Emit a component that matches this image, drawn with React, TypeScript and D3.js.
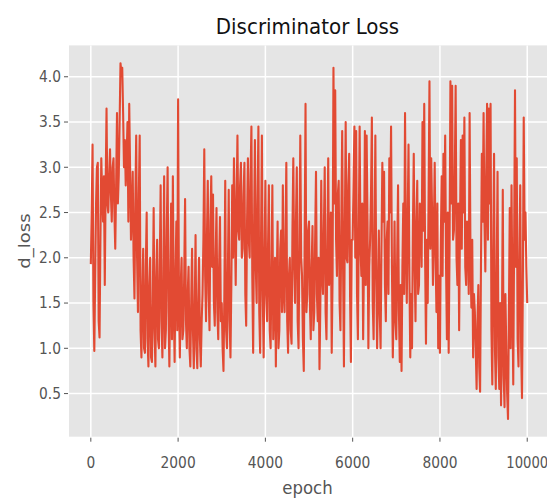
import React from "react";
import * as d3 from "d3";

const STEP = 20;
const dLoss: number[] = [
  // 0 - 980
  1.93, 2.5, 3.25, 1.5, 0.97, 1.8, 2.6, 3.0, 3.05, 1.3,
  1.12, 2.2, 3.1, 2.7, 2.4, 2.9, 1.7, 2.8, 3.65, 2.6,
  2.5, 2.9, 3.2, 2.7, 2.4, 3.0, 3.1, 2.5, 2.1, 2.8,
  3.6, 2.6, 2.9, 3.5, 4.15, 4.05, 4.1, 3.6, 3.0, 3.3,
  2.8, 3.1, 3.5, 2.4, 3.7, 3.0, 2.2, 2.5, 2.95, 2.0,
  // 1000 - 1980
  1.55, 2.6, 3.35, 2.0, 1.4, 2.7, 3.35, 1.2, 0.9, 1.6,
  2.1, 1.0, 0.95, 1.9, 2.5, 1.1, 0.8, 1.7, 2.0, 0.9,
  0.85, 1.5, 2.55, 1.2, 0.8, 1.8, 2.2, 1.1, 1.0, 1.9,
  2.8, 1.3, 0.9, 1.6, 2.9, 1.0, 1.2, 2.3, 3.0, 1.4,
  0.8, 1.7, 2.6, 1.1, 2.9, 1.5, 0.85, 1.8, 2.4, 1.2,
  // 2000 - 2980
  3.75, 1.5, 0.9, 1.7, 2.0, 1.1, 1.2, 1.8, 2.65, 1.3,
  1.0, 1.6, 1.9, 1.0, 0.8, 1.5, 2.1, 1.2, 0.78, 1.4,
  2.25, 1.0, 0.78, 1.5, 2.0, 1.1, 0.8, 1.3, 1.6, 2.2,
  3.2, 1.8, 1.3, 2.2, 2.85, 1.6, 1.2, 2.4, 2.9, 1.9,
  2.7, 1.5, 1.25, 2.0, 2.55, 1.4, 1.1, 1.9, 2.45, 1.3,
  // 3000 - 3980
  1.5, 1.0, 0.75, 1.6, 2.85, 1.2, 1.0, 1.8, 2.75, 1.3,
  0.9, 1.7, 2.8, 2.0, 3.1, 2.4, 1.7, 2.6, 3.35, 2.3,
  2.2, 2.8, 3.05, 2.0, 2.1, 2.7, 3.05, 1.6, 1.25, 2.4,
  3.1, 2.2, 2.0, 2.9, 3.45, 1.8, 0.95, 2.3, 3.3, 1.9,
  1.5, 2.6, 3.45, 1.4, 0.95, 2.2, 3.35, 1.6, 0.9, 2.0,
  // 4000 - 4980
  2.85, 1.6, 1.3, 2.1, 2.8, 1.2, 1.0, 1.9, 2.8, 1.1,
  1.5, 2.0, 0.8, 1.7, 2.4, 1.0, 1.2, 2.1, 2.3, 1.4,
  2.8, 1.6, 1.4, 2.2, 3.05, 1.3, 0.95, 1.8, 2.0, 1.2,
  1.05, 2.3, 3.1, 1.9, 1.5, 2.4, 3.0, 1.3, 1.0, 2.1,
  3.35, 2.0, 1.8, 1.1, 0.75, 2.2, 3.7, 1.4, 1.6, 2.3,
  // 5000 - 5980
  2.4, 1.5, 1.1, 1.9, 2.35, 1.2, 1.4, 2.2, 2.95, 1.6,
  1.3, 2.0, 0.77, 1.5, 2.85, 1.8, 1.6, 2.3, 3.0, 1.4,
  1.1, 2.1, 3.1, 1.7, 1.9, 2.5, 0.95, 1.8, 4.1, 2.6,
  3.85, 2.2, 1.8, 2.7, 2.85, 1.5, 1.2, 2.4, 3.4, 1.9,
  0.8, 2.3, 3.5, 2.0, 1.95, 2.8, 3.15, 1.6, 0.85, 2.2,
  // 6000 - 6980
  2.2, 2.8, 3.45, 2.0, 3.4, 1.6, 1.1, 2.3, 3.45, 2.1,
  1.8, 2.6, 1.1, 2.0, 3.4, 1.7, 3.35, 2.4, 1.0, 1.9,
  2.2, 2.7, 3.55, 1.5, 1.1, 2.2, 3.35, 1.8, 1.0, 1.6,
  2.3, 1.4, 1.0, 2.1, 3.05, 2.4, 2.95, 1.7, 1.3, 2.2,
  2.4, 1.6, 3.1, 2.5, 3.45, 1.9, 0.9, 1.5, 2.4, 1.3,
  // 7000 - 7980
  1.1, 2.0, 2.8, 1.4, 0.85, 1.7, 0.75, 1.9, 2.6, 1.6,
  3.6, 2.2, 1.5, 2.4, 3.25, 1.8, 0.9, 1.6, 1.0, 2.3,
  3.15, 1.9, 1.3, 2.4, 2.85, 1.6, 1.7, 2.6, 2.5, 1.9,
  3.5, 2.3, 3.7, 2.0, 1.05, 2.2, 1.5, 2.7, 3.95, 2.1,
  3.1, 2.5, 1.7, 2.3, 3.05, 2.0, 1.4, 2.6, 1.0, 1.8,
  // 8000 - 8980
  0.95, 2.2, 2.9, 1.8, 3.15, 2.4, 3.35, 1.9, 1.1, 2.5,
  0.95, 2.1, 3.95, 2.6, 3.9, 2.2, 2.3, 2.9, 3.9, 2.0,
  1.7, 2.6, 1.2, 2.4, 3.3, 2.1, 3.35, 2.5, 3.55, 1.9,
  1.7, 2.4, 2.3, 1.6, 3.6, 2.0, 1.45, 2.2, 0.9, 1.6,
  1.4, 1.0, 0.55, 1.3, 1.7, 0.8, 0.52, 1.9, 3.15, 2.4,
  // 9000 - 10000
  3.6, 2.4, 1.85, 2.9, 3.7, 2.2, 3.65, 2.6, 3.7, 1.2,
  0.6, 2.0, 3.15, 1.0, 0.55, 1.8, 2.95, 0.9, 0.55, 1.5,
  0.37, 1.2, 2.75, 0.7, 0.35, 1.6, 1.0, 0.5, 0.22, 1.4,
  2.55, 1.0, 2.8, 1.6, 0.6, 2.2, 3.85, 1.9, 3.1, 1.1,
  0.8, 2.0, 2.8, 1.0, 0.45, 1.7, 3.55, 2.2, 2.5, 1.9, 1.5,
];

const xTicks = [0, 2000, 4000, 6000, 8000, 10000];
const yTicks = [0.5, 1.0, 1.5, 2.0, 2.5, 3.0, 3.5, 4.0];

const TITLE = "Discriminator Loss";
const X_LABEL = "epoch";
const Y_LABEL = "d_loss";

export default function App() {
  const W = 547;
  const H = 500;
  const left = 69;
  const right = 549;
  const top = 45.4;
  const bottom = 436.7;

  const data = dLoss.map((v, i) => ({ e: i * STEP, v }));
  const minV = d3.min(dLoss)!;
  const maxV = d3.max(dLoss)!;
  const pad = (maxV - minV) * 0.05;

  const x = d3.scaleLinear().domain([-500, 10499]).range([left, right]);
  const y = d3.scaleLinear().domain([minV - pad, maxV + pad]).range([bottom, top]);

  const line = d3
    .line<{ e: number; v: number }>()
    .x((d) => x(d.e))
    .y((d) => y(d.v));

  const font = "'DejaVu Sans', sans-serif";
  const sx = 0.92;

  return (
    <svg
      width={W}
      height={H}
      style={{ position: "absolute", left: 0, top: 0, background: "#fff" }}
      fontFamily={font}
    >
      <defs>
        <clipPath id="plotclip">
          <rect x={left} y={top} width={right - left} height={bottom - top} />
        </clipPath>
      </defs>
      <rect x={left} y={top} width={right - left} height={bottom - top} fill="#E5E5E5" />
      {xTicks.map((t) => (
        <line key={"gx" + t} x1={x(t)} x2={x(t)} y1={top} y2={bottom} stroke="#fff" strokeWidth={1.5} />
      ))}
      {yTicks.map((t) => (
        <line key={"gy" + t} x1={left} x2={right} y1={y(t)} y2={y(t)} stroke="#fff" strokeWidth={1.5} />
      ))}
      <path
        d={line(data) ?? ""}
        fill="none"
        stroke="#E24A33"
        strokeWidth={2.1}
        strokeLinejoin="round"
        clipPath="url(#plotclip)"
      />
      {yTicks.map((t) => (
        <g key={"ty" + t}>
          <line x1={left - 5} x2={left - 1} y1={y(t)} y2={y(t)} stroke="#555" strokeWidth={1} />
          <text
            transform={`translate(61,${y(t) + 5.4}) scale(${sx},1)`}
            textAnchor="end"
            fontSize={15}
            fill="#555"
          >
            {t.toFixed(1)}
          </text>
        </g>
      ))}
      {xTicks.map((t) => (
        <g key={"tx" + t}>
          <line x1={x(t)} x2={x(t)} y1={bottom + 1} y2={bottom + 5} stroke="#555" strokeWidth={1} />
          <text
            transform={`translate(${x(t)},468) scale(${t === 10000 ? 0.88 : sx},1)`}
            textAnchor="middle"
            fontSize={15}
            fill="#555"
          >
            {t}
          </text>
        </g>
      ))}
      <text
        transform={`translate(${(left + right) / 2 - 1.5},34) scale(${sx},1)`}
        textAnchor="middle"
        fontSize={21.6}
        fill="#111"
      >
        {TITLE}
      </text>
      <text
        transform={`translate(${(left + right) / 2 - 1.5},494) scale(${sx},1)`}
        textAnchor="middle"
        fontSize={18}
        fill="#555"
      >
        {X_LABEL}
      </text>
      <text
        transform={`translate(30,${(top + bottom) / 2}) scale(${sx},1) rotate(-90)`}
        textAnchor="middle"
        fontSize={18}
        fill="#555"
      >
        {Y_LABEL}
      </text>
    </svg>
  );
}
